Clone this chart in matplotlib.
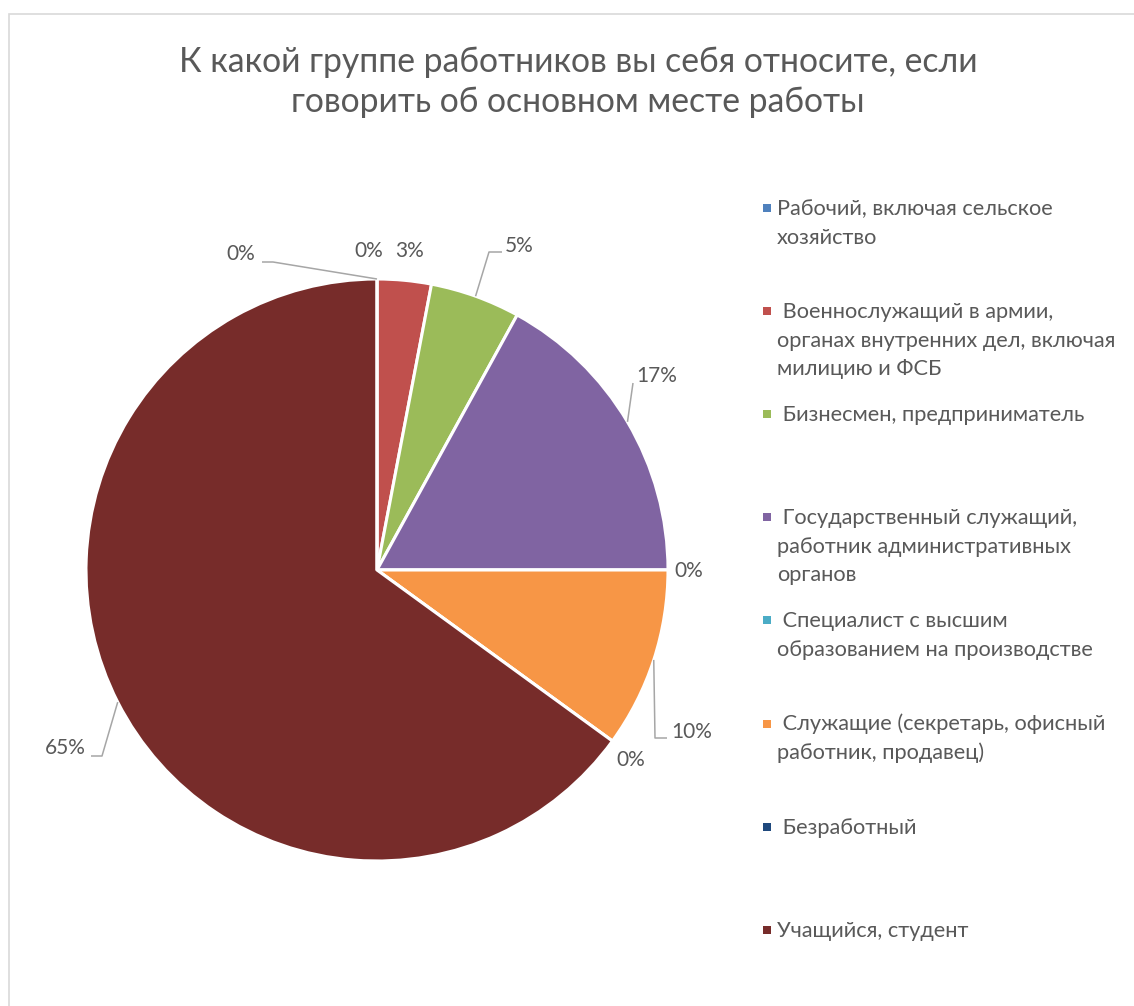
import matplotlib
matplotlib.use("Agg")
import matplotlib.pyplot as plt
from matplotlib.patches import Rectangle
import numpy as np

plt.rcParams['font.family'] = ['Lato', 'Open Sans', 'DejaVu Sans']

title = "К какой группе работников вы себя относите, если\nговорить об основном месте работы"

names = [
    "Рабочий, включая сельское\nхозяйство",
    " Военнослужащий в армии,\nорганах внутренних дел, включая\nмилицию и ФСБ",
    " Бизнесмен, предприниматель",
    " Государственный служащий,\nработник административных\nорганов",
    " Специалист с высшим\nобразованием на производстве",
    " Служащие (секретарь, офисный\nработник, продавец)",
    " Безработный",
    "Учащийся, студент",
]
# ninth category: its legend entry is cut off at the bottom of the picture
values = [0, 3, 5, 17, 0, 10, 0, 65, 0]
colors = ["#4F81BD", "#C0504D", "#9BBB59", "#8064A2", "#4BACC6",
          "#F79646", "#1F497D", "#772C2A", "#4E6E9A"]

W, H = 1134, 1006
TXT = "#595959"
cx, cy, R = 377, 570, 291  # pie centre / radius in pixels


def fx(x):
    return x / W


def fy(y):
    return 1 - y / H


def P(x, y):
    # pixel -> pie data coords
    return ((x - cx) / R, (cy - y) / R)


fig = plt.figure(figsize=(W / 100, H / 100), dpi=100)
fig.patch.set_facecolor("white")

# chart border (only top and left edges visible)
fig.add_artist(Rectangle((fx(8.5), fy(1020)), fx(1140), fy(13.5) - fy(1020),
                         transform=fig.transFigure, fill=False,
                         edgecolor="#D9D9D9", lw=1.2))

fig.text(fx(578), fy(82), title, ha="center", va="center", fontsize=24.3,
         color=TXT, linespacing=1.34)

ax = fig.add_axes([0, fy(970), 754 / W, 800 / H])
wedges, _ = ax.pie(values, colors=colors, startangle=90, counterclock=False,
                   wedgeprops=dict(edgecolor="white", linewidth=2.2))
ax.set_xlim(-cx / R, (754 - cx) / R)
ax.set_ylim(-400 / R, 400 / R)
ax.set_aspect("equal")
ax.axis("off")

# data label placement (text centre, leader elbows) in reference pixels
label_pos = [
    ((369, 251), None),
    ((410, 251), None),
    ((519, 246), [(489, 252), (502, 252)]),
    ((657, 376), [(633, 383)]),
    ((689, 571), None),
    ((692, 732), [(655, 738), (667, 738)]),
    ((631, 760), None),
    ((65, 748), [(102, 756), (91, 756)]),
    ((241, 254), [(273, 262), (262, 262)]),
]

for w, v, (tp, elbows) in zip(wedges, values, label_pos):
    ang = np.deg2rad((w.theta1 + w.theta2) / 2)
    if elbows:
        xs = [np.cos(ang)] + [P(*e)[0] for e in elbows]
        ys = [np.sin(ang)] + [P(*e)[1] for e in elbows]
        ax.plot(xs, ys, color="#A6A6A6", lw=1.1, solid_capstyle="butt")
    tx, ty = P(*tp)
    ax.text(tx, ty, f"{v:.0f}%", ha="center", va="center", fontsize=15,
            color=TXT)

# legend, Excel style: evenly spaced entries
top, pitch, lh = 208, 103.1, 28.5
for i, (name, c) in enumerate(zip(names, colors)):
    yc = top + i * pitch
    fig.add_artist(Rectangle((fx(763), fy(yc + 4)), 8 / W, 8 / H,
                             transform=fig.transFigure, facecolor=c,
                             edgecolor="none"))
    for k, line in enumerate(name.split("\n")):
        fig.text(fx(777), fy(yc + 7 + k * lh), line, ha="left",
                 va="baseline", fontsize=15.7, color=TXT)

fig.savefig("out.png", dpi=100)
